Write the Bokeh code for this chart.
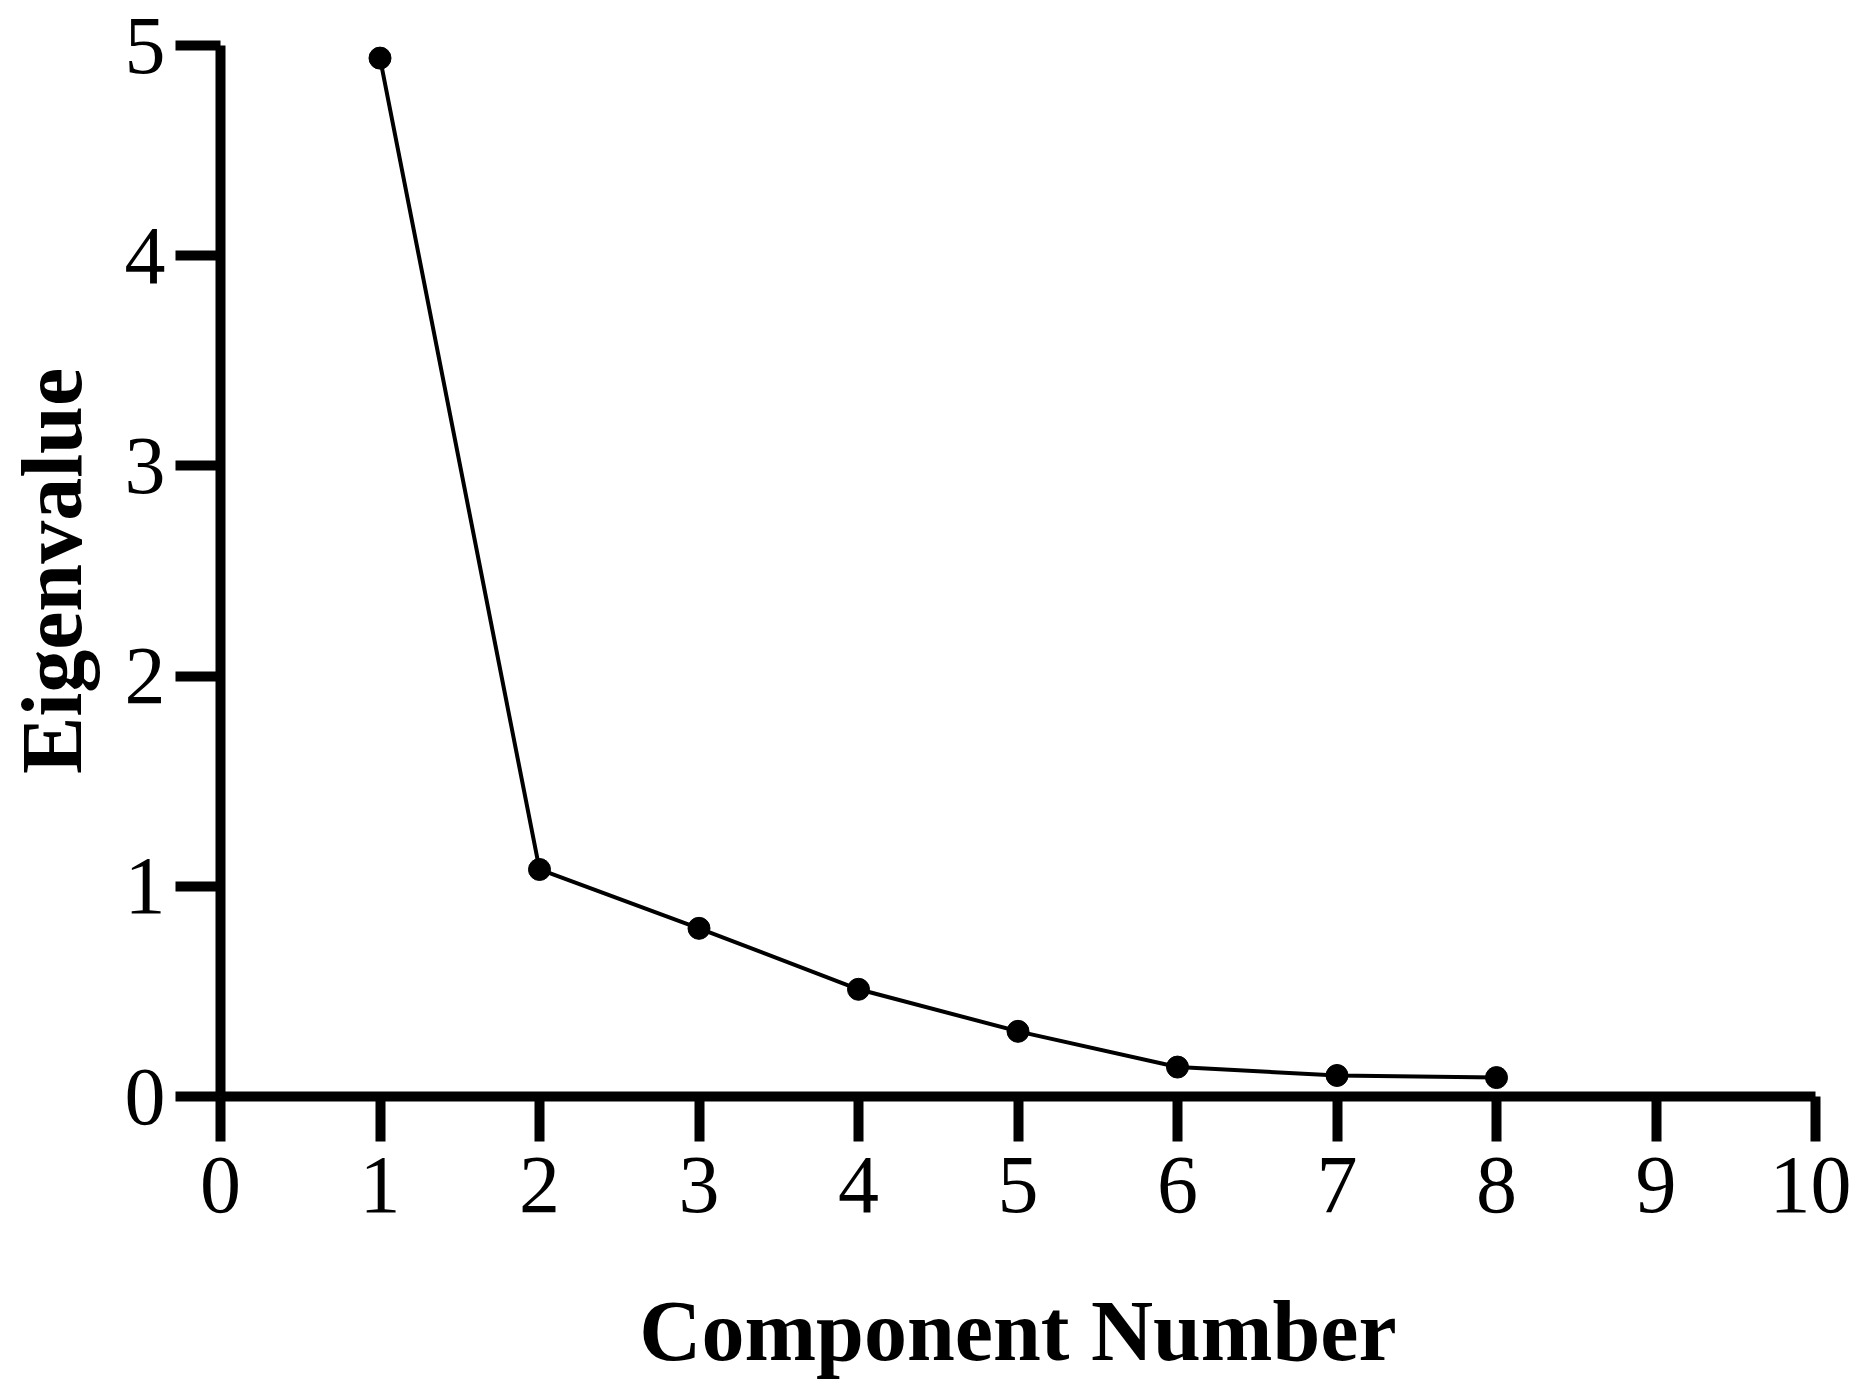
from bokeh.plotting import figure
from bokeh.models import Range1d, FixedTicker
from bokeh.embed import file_html
from bokeh.resources import INLINE

components = [1, 2, 3, 4, 5, 6, 7, 8]
eigenvalues = [4.94, 1.08, 0.80, 0.51, 0.31, 0.14, 0.10, 0.09]
x_ticks = [0, 1, 2, 3, 4, 5, 6, 7, 8, 9, 10]
y_ticks = [0, 1, 2, 3, 4, 5]
x_label = "Component Number"
y_label = "Eigenvalue"

p = figure(width=1851, height=1381, output_backend="svg", toolbar_location=None,
           x_range=Range1d(0, 10), y_range=Range1d(0, 5),
           min_border_left=213, min_border_right=36, min_border_top=45, min_border_bottom=278)
p.outline_line_color = None
p.grid.visible = False
p.background_fill_color = "white"

p.line(components, eigenvalues, line_color="black", line_width=4)
p.scatter(components, eigenvalues, size=22, fill_color="black", line_color="black")

for ax in (p.xaxis[0], p.yaxis[0]):
    ax.axis_line_width = 10
    ax.axis_line_color = "black"
    ax.major_tick_line_width = 10
    ax.major_tick_line_color = "black"
    ax.major_tick_out = 45
    ax.major_tick_in = 0
    ax.minor_tick_out = 0
    ax.minor_tick_in = 0
    ax.major_label_text_font = "Liberation Serif"
    ax.major_label_text_font_size = "82px"
    ax.major_label_text_color = "black"
    ax.axis_label_text_font = "Liberation Serif"
    ax.axis_label_text_font_style = "bold"
    ax.axis_label_text_font_size = "86px"
    ax.axis_label_text_color = "black"

p.xaxis[0].ticker = FixedTicker(ticks=x_ticks)
p.yaxis[0].ticker = FixedTicker(ticks=y_ticks)
p.xaxis[0].axis_label = x_label
p.yaxis[0].axis_label = y_label
p.xaxis[0].major_label_standoff = 16
p.yaxis[0].major_label_standoff = 10
p.xaxis[0].axis_label_standoff = 68
p.yaxis[0].axis_label_standoff = 22

open("out.html", "w").write(file_html(p, INLINE))
